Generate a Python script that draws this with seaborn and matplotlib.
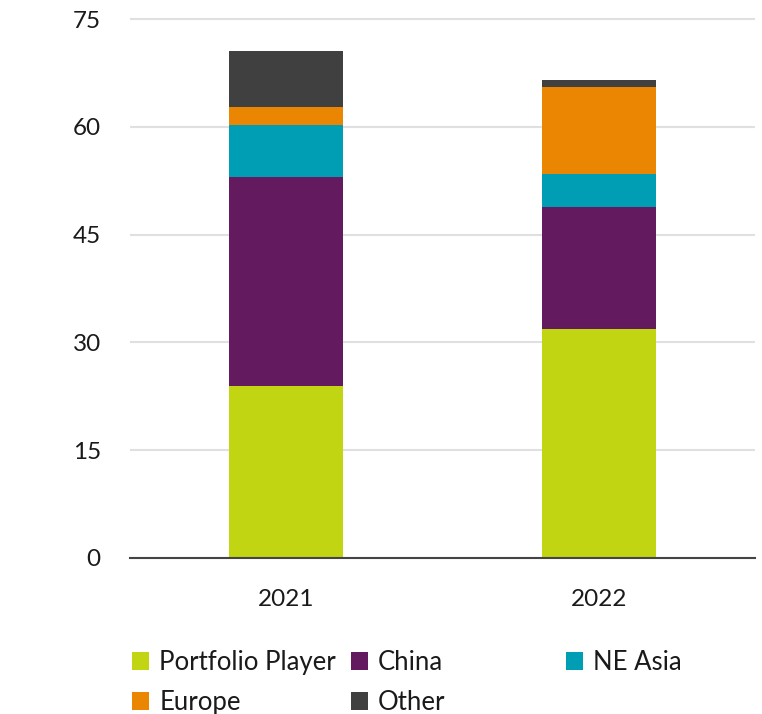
import matplotlib
matplotlib.use("Agg")
import matplotlib.pyplot as plt
import seaborn as sns
import pandas as pd
from matplotlib.patches import Patch

# ---- data ----
years = ["2021", "2022"]
series = ["Portfolio Player", "China", "NE Asia", "Europe", "Other"]
portfolio_player = [24.0, 31.9]
china = [29.0, 16.9]
ne_asia = [7.2, 4.6]
europe = [2.5, 12.1]
other = [7.8, 1.0]
yticks = [0, 15, 30, 45, 60, 75]

colors = {"Portfolio Player": "#C2D512", "China": "#641A5E", "NE Asia": "#009EB5",
          "Europe": "#EB8603", "Other": "#404040"}

sns.set_theme(style="white")
plt.rcParams['font.family'] = ['Lato', 'DejaVu Sans']

df = pd.DataFrame({"year": years, "Portfolio Player": portfolio_player, "China": china,
                   "NE Asia": ne_asia, "Europe": europe, "Other": other})
cum = df[series].cumsum(axis=1)

W, H = 762, 714
fig = plt.figure(figsize=(W / 100, H / 100), dpi=100)
ymax = 75.3
px_per_unit = 539 / 75
ax = fig.add_axes([130 / W, 1 - 558 / H, 625 / W, ymax * px_per_unit / H])

for s in reversed(series):
    plot_df = pd.DataFrame({"year": years, "value": cum[s].values})
    sns.barplot(data=plot_df, x="year", y="value", color=colors[s], saturation=1,
                width=0.364, linewidth=0, errorbar=None, ax=ax, zorder=3)

ax.set_xlim(-0.5, 1.5)
ax.set_ylim(0, ymax)
ax.set_yticks(yticks)
ax.set_yticklabels([str(t) for t in yticks])
ax.set_xlabel("")
ax.set_ylabel("")
ax.set_axisbelow(True)
ax.yaxis.grid(True, color="#E0E0E0", linewidth=1.5)
ax.xaxis.grid(False)
for sp in ["top", "right", "left"]:
    ax.spines[sp].set_visible(False)
ax.spines["bottom"].set_color("#444444")
ax.spines["bottom"].set_linewidth(1.5)
ax.spines["bottom"].set_zorder(4)
ax.tick_params(axis="y", length=0, pad=21, labelsize=17.5, labelcolor="#1a1a1a")
ax.tick_params(axis="x", length=0, pad=22, labelsize=17.5, labelcolor="#1a1a1a")

# ---- legend in three columns ----
cols = [["Portfolio Player", "Europe"], ["China", "Other"], ["NE Asia"]]
xpos = [132, 351, 566]
for names, x in zip(cols, xpos):
    handles = [Patch(facecolor=colors[n], edgecolor="none") for n in names]
    fig.legend(handles, names, loc="upper left", bbox_to_anchor=(x / W, 1 - 650 / H),
               frameon=False, fontsize=18.5, handlelength=0.68, handleheight=0.68,
               handletextpad=0.38, borderpad=0, borderaxespad=0, labelspacing=0.58,
               labelcolor="#1a1a1a")

fig.savefig("out.png", dpi=100)
